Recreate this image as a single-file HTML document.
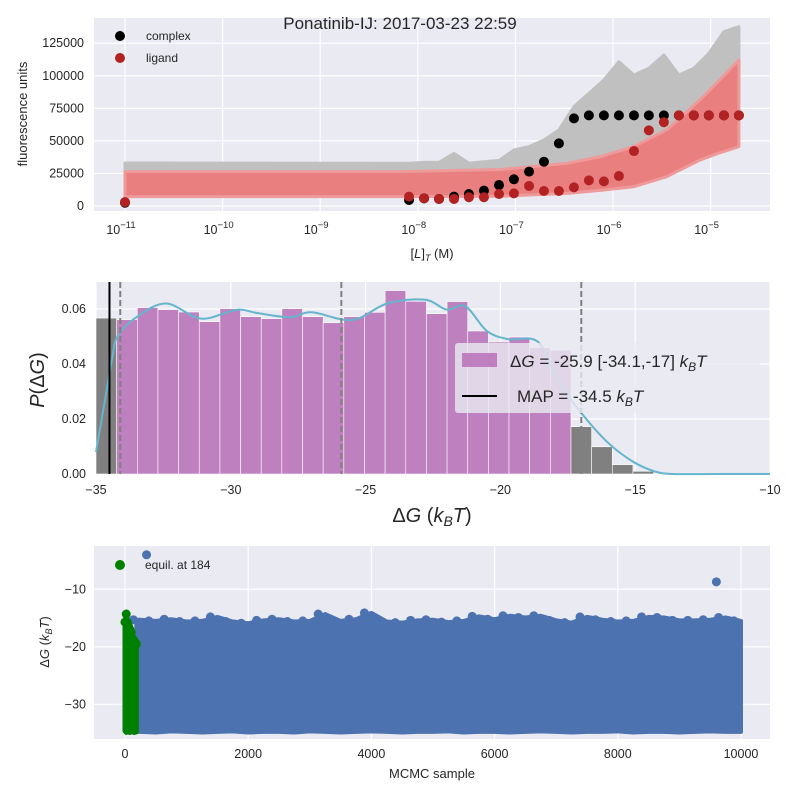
<!DOCTYPE html>
<html><head><meta charset="utf-8"><style>
body{margin:0;background:#fff;}
svg{display:block;font-family:"Liberation Sans","DejaVu Sans",sans-serif;}
</style></head><body>
<svg id="fig" width="800" height="800" viewBox="0 0 800 800">
<g id="p1"></g>
<g id="p2"></g>
<g id="p3"></g>
<text x="400" y="29" text-anchor="middle" font-size="17" fill="#262626">Ponatinib-IJ: 2017-03-23 22:59</text>
</svg>
<script>
// ---------- Panel 1 data ----------
const conc = [1e-11, 8.13e-9, 1.16e-8, 1.65e-8, 2.35e-8, 3.34e-8, 4.76e-8, 6.79e-8, 9.66e-8, 1.38e-7, 1.96e-7, 2.79e-7, 3.98e-7, 5.66e-7, 8.07e-7, 1.15e-6, 1.64e-6, 2.33e-6, 3.32e-6, 4.73e-6, 6.73e-6, 9.59e-6, 1.37e-5, 1.95e-5];
const complexVals = [2500, 4600, 5900, 5400, 7200, 9200, 11800, 16100, 20500, 26400, 34000, 48100, 67300, 69600, 69600, 69600, 69600, 69600, 69600, 69600, 69600, 69600, 69600, 69600];
const ligandVals = [3000, 7200, 5900, 5400, 5400, 6700, 6700, 9200, 9700, 15400, 11500, 11500, 14300, 19700, 18900, 23000, 42200, 58100, 64300, 69600, 69600, 69600, 69600, 69600];
const grayHi = [33000, 32800, 33500, 33500, 40400, 32800, 34000, 35000, 43000, 45600, 50700, 58400, 76300, 86500, 96800, 110800, 100600, 105700, 116000, 100600, 105700, 117200, 133900, 137700];
const grayLo = [17000, 17000, 17000, 17000, 17000, 17000, 17000, 17000, 17000, 18000, 20000, 23000, 26000, 30000, 33000, 37000, 42000, 47000, 52000, 58000, 64000, 70000, 76000, 80000];
const redLogX = [-11, -8.17, -7.15, -6.47, -6.13, -5.79, -5.45, -5.11, -4.94, -4.71];
const redHi = [26400, 26400, 28000, 32800, 37900, 45600, 58400, 81400, 94200, 112100];
const redLo = [7200, 7200, 7500, 9700, 12000, 14800, 22500, 35300, 40000, 45600];
const p1XTicks = [-11, -10, -9, -8, -7, -6, -5];
const p1YTicks = [0, 25000, 50000, 75000, 100000, 125000];
// ---------- Panel 2 data ----------
const binStart = -35, binWidth = 0.766;
const histVals = [0.0567, 0.0561, 0.0605, 0.0598, 0.0589, 0.0554, 0.0601, 0.0572, 0.0565, 0.0601, 0.0572, 0.055, 0.0572, 0.0588, 0.0667, 0.0628, 0.0583, 0.0627, 0.052, 0.048, 0.0498, 0.046, 0.045, 0.0172, 0.0099, 0.0034, 0.001];
const kdeX = [-35, -34.7, -34.4, -34.2, -33.5, -32.4, -31.1, -29.8, -29, -27.8, -27, -25.5, -24.2, -22.8, -22, -21.3, -20.5, -19.7, -18.6, -17.8, -16.9, -16, -15.1, -14.3, -13.6, -12, -10];
const kdeY = [0.008, 0.025, 0.042, 0.05, 0.057, 0.062, 0.0565, 0.0597, 0.0585, 0.057, 0.0588, 0.056, 0.062, 0.0634, 0.0598, 0.061, 0.052, 0.049, 0.048, 0.033, 0.021, 0.0113, 0.0046, 0.001, 0, 0, 0];
const ciLow = -34.1, ciMid = -25.9, ciHigh = -17.0, mapVal = -34.5;
const p2XTicks = [-35, -30, -25, -20, -15, -10];
const p2YTicks = [0, 0.02, 0.04, 0.06];
// ---------- Panel 3 data ----------
const equilIndex = 184;
const envSamples = [250, 500, 750, 1000, 1250, 1500, 1750, 2000, 2250, 2500, 2750, 3000, 3250, 3500, 3750, 4000, 4250, 4500, 4750, 5000, 5250, 5500, 5750, 6000, 6250, 6500, 6750, 7000, 7250, 7500, 7750, 8000, 8250, 8500, 8750, 9000, 9250, 9500, 9750, 10000];
const envUpper = [-15.3, -15.5, -15.2, -15.6, -15.5, -14.8, -15.6, -15.9, -15.4, -15.2, -15.6, -15.5, -14.3, -15.5, -15.2, -14.1, -15.6, -15.8, -15.4, -15.3, -15.7, -15.5, -14.7, -15.2, -14.6, -14.9, -14.6, -15.4, -15.8, -14.8, -15.3, -15.6, -15.5, -14.8, -14.9, -15.4, -15.4, -15.3, -14.9, -15.5];
const envLower = [-34.8, -34.9, -34.7, -34.8, -34.9, -34.8, -34.7, -34.9, -34.8, -34.8, -34.9, -34.7, -34.8, -34.9, -34.8, -34.7, -34.8, -34.9, -34.8, -34.8, -34.7, -34.9, -34.8, -34.8, -34.9, -34.8, -34.7, -34.8, -34.9, -34.8, -34.8, -34.7, -34.9, -34.8, -34.8, -34.9, -34.8, -34.7, -34.8, -34.8];
const greenSamples = [0, 20, 40, 60, 80, 100, 120, 150, 184];
const greenUpper = [-15.7, -14.3, -15.8, -16.5, -17.0, -17.5, -18.5, -19.0, -19.5];
const greenLower = [-34.6, -34.9, -34.7, -34.8, -34.9, -34.6, -34.8, -34.9, -34.8];
const outlierSamples = [350, 9600];
const outlierVals = [-4.0, -8.7];
const p3XTicks = [0, 2000, 4000, 6000, 8000, 10000];
const p3YTicks = [-10, -20, -30];

const NS = "http://www.w3.org/2000/svg";
function mk(parent, tag, attrs, text) {
  const e = document.createElementNS(NS, tag);
  for (const k in attrs) e.setAttribute(k, attrs[k]);
  if (text !== undefined) e.textContent = text;
  parent.appendChild(e);
  return e;
}
const BG = "#EAEAF2", TXT = "#262626";
function smoothPath(pts) {
  let d = "M" + pts[0][0] + "," + pts[0][1];
  for (let i = 0; i < pts.length - 1; i++) {
    const p0 = pts[Math.max(0, i - 1)], p1 = pts[i], p2 = pts[i + 1], p3 = pts[Math.min(pts.length - 1, i + 2)];
    const c1x = p1[0] + (p2[0] - p0[0]) / 6, c1y = p1[1] + (p2[1] - p0[1]) / 6;
    const c2x = p2[0] - (p3[0] - p1[0]) / 6, c2y = p2[1] - (p3[1] - p1[1]) / 6;
    d += " C" + c1x + "," + c1y + " " + c2x + "," + c2y + " " + p2[0] + "," + p2[1];
  }
  return d;
}

// ================= Panel 1 =================
(function () {
  const g = document.getElementById("p1");
  const L = 94, R = 770, T = 18, B = 211;
  const sx = c => 125 + (Math.log10(c) + 11) * 97.6;
  const sxl = lg => 125 + (lg + 11) * 97.6;
  const sy = v => 206 - v / 768;
  const bg = mk(g, "rect", { x: L, y: T, width: R - L, height: B - T, fill: BG });
  
  
  p1XTicks.forEach(t => {
    const x = sxl(t);
    mk(g, "line", { x1: x, x2: x, y1: T, y2: B, stroke: "#fff", "stroke-width": 1.2 });
    const tx = mk(g, "text", { x: x - 4, y: 234, "text-anchor": "middle", "font-size": 12.5, fill: TXT });
    
    
    const a = document.createElementNS(NS, "tspan"); a.textContent = "10"; tx.appendChild(a);
    const b = document.createElementNS(NS, "tspan"); b.setAttribute("dy", -6); b.setAttribute("font-size", 9.5); b.textContent = "\u2212" + Math.abs(t); tx.appendChild(b);
  });
  p1YTicks.forEach(t => {
    const y = sy(t);
    mk(g, "line", { x1: L, x2: R, y1: y, y2: y, stroke: "#fff", "stroke-width": 1.2 });
    const tx = mk(g, "text", { x: 84, y: y + 4, "text-anchor": "end", "font-size": 12.5, fill: TXT }, String(t));
    
    
  });
  let d = "";
  conc.forEach((c, i) => { d += (i ? "L" : "M") + sx(c) + "," + sy(grayHi[i]); });
  for (let i = conc.length - 1; i >= 0; i--) d += "L" + sx(conc[i]) + "," + sy(grayLo[i]);
  const gb = mk(g, "path", { d: d + "Z", fill: "#c0c0c0", stroke: "#c0c0c0", "stroke-width": 3, "stroke-linejoin": "round" });
  
  
  d = "";
  redLogX.forEach((lx, i) => { d += (i ? "L" : "M") + sxl(lx) + "," + sy(redHi[i]); });
  for (let i = redLogX.length - 1; i >= 0; i--) d += "L" + sxl(redLogX[i]) + "," + sy(redLo[i]);
  const rb = mk(g, "path", { d: d + "Z", fill: "#E97F7F", stroke: "#EE9A9A", "stroke-width": 3, "stroke-linejoin": "round" });
  
  
  conc.forEach((c, i) => {
    const p = mk(g, "circle", { cx: sx(c), cy: sy(complexVals[i]), r: 5, fill: "#000" });
    
    
  });
  conc.forEach((c, i) => {
    const p = mk(g, "circle", { cx: sx(c), cy: sy(ligandVals[i]), r: 5, fill: "#B22222" });
    
    
  });
  const lc = mk(g, "circle", { cx: 120, cy: 36, r: 5, fill: "#000" });
   
  const lt = mk(g, "text", { x: 146, y: 40, "font-size": 12, fill: TXT }, "complex");
   
  const lc2 = mk(g, "circle", { cx: 120, cy: 58, r: 5, fill: "#B22222" });
   
  const lt2 = mk(g, "text", { x: 146, y: 62, "font-size": 12, fill: TXT }, "ligand");
   
  const yl = mk(g, "text", { x: 0, y: 0, transform: "translate(27,114) rotate(-90)", "text-anchor": "middle", "font-size": 13, fill: TXT }, "fluorescence units");
   
  const xl = mk(g, "text", { x: 432, y: 258, "text-anchor": "middle", "font-size": 13, fill: TXT });
   
  xl.innerHTML = '[<tspan font-style="italic">L</tspan>]<tspan font-size="9" dy="3" font-style="italic">T</tspan><tspan dy="-3"> (M)</tspan>';
})();

// ================= Panel 2 =================
(function () {
  const g = document.getElementById("p2");
  const L = 96, R = 770, T = 282, B = 474;
  const sx = v => L + (v + 35) * (R - L) / 25;
  const sy = v => B - v * 2750;
  const bg = mk(g, "rect", { x: L, y: T, width: R - L, height: B - T, fill: BG });
   
  p2XTicks.forEach(t => {
    const x = sx(t);
    mk(g, "line", { x1: x, x2: x, y1: T, y2: B, stroke: "#fff", "stroke-width": 1.2 });
    const tx = mk(g, "text", { x: x, y: 494, "text-anchor": "middle", "font-size": 12.5, fill: TXT }, "\u2212" + Math.abs(t));
     
  });
  p2YTicks.forEach(t => {
    const y = sy(t);
    mk(g, "line", { x1: L, x2: R, y1: y, y2: y, stroke: "#fff", "stroke-width": 1.2 });
    const tx = mk(g, "text", { x: 86, y: y + 4, "text-anchor": "end", "font-size": 12.5, fill: TXT }, t.toFixed(2));
     
  });
  histVals.forEach((v, i) => {
    const x0 = binStart + i * binWidth, x1 = x0 + binWidth;
    const mid = (x0 + x1) / 2;
    const inCI = mid > ciLow && mid < ciHigh;
    const r = mk(g, "rect", { x: sx(x0), y: sy(v), width: sx(x1) - sx(x0), height: B - sy(v), fill: inCI ? "#BF80BF" : "#808080", stroke: "#fff", "stroke-width": 0.6 });
    
    
  });
  const kp = kdeX.map((x, i) => [sx(x), sy(kdeY[i])]);
  const kd = mk(g, "path", { d: smoothPath(kp), fill: "none", stroke: "#64B5CD", "stroke-width": 2 });
   
  [ciLow, ciMid, ciHigh].forEach(v => {
    const l = mk(g, "line", { x1: sx(v), x2: sx(v), y1: T, y2: B, stroke: "#808080", "stroke-width": 2, "stroke-dasharray": "6,3" });
     
  });
  const ml = mk(g, "line", { x1: sx(mapVal), x2: sx(mapVal), y1: T, y2: B, stroke: "#000", "stroke-width": 2 });
   
  const lg = mk(g, "rect", { x: 455, y: 343, width: 305, height: 70, rx: 3, fill: "rgba(234,234,242,0.8)" });
   
  const pp = mk(g, "rect", { x: 462, y: 353, width: 35, height: 14, fill: "#BF80BF" });
   
  const t1 = mk(g, "text", { x: 510, y: 367, "font-size": 17, fill: TXT });
   
  t1.innerHTML = 'Δ<tspan font-style="italic">G</tspan> =  -25.9 [-34.1,-17] <tspan font-style="italic">k</tspan><tspan font-size="12" dy="4" font-style="italic">B</tspan><tspan dy="-4" font-style="italic">T</tspan>';
  const mlg = mk(g, "line", { x1: 462, x2: 497, y1: 396, y2: 396, stroke: "#000", "stroke-width": 2 });
   
  const t2 = mk(g, "text", { x: 517, y: 402, "font-size": 17, fill: TXT });
   
  t2.innerHTML = 'MAP = -34.5 <tspan font-style="italic">k</tspan><tspan font-size="12" dy="4" font-style="italic">B</tspan><tspan dy="-4" font-style="italic">T</tspan>';
  const yl = mk(g, "text", { x: 0, y: 0, transform: "translate(44,380) rotate(-90)", "text-anchor": "middle", "font-size": 20, fill: TXT });
   
  yl.innerHTML = '<tspan font-style="italic">P</tspan>(Δ<tspan font-style="italic">G</tspan>)';
  const xl = mk(g, "text", { x: 432, y: 522, "text-anchor": "middle", "font-size": 20, fill: TXT });
   
  xl.innerHTML = 'Δ<tspan font-style="italic">G</tspan> (<tspan font-style="italic">k</tspan><tspan font-size="14" dy="4" font-style="italic">B</tspan><tspan dy="-4" font-style="italic">T</tspan>)';
})();

// ================= Panel 3 =================
(function () {
  const g = document.getElementById("p3");
  const L = 94, R = 770, T = 546, B = 739;
  const sx = s => 125 + s * 0.0616;
  const sy = v => 589.3 + (-10 - v) * 5.75;
  const bg = mk(g, "rect", { x: L, y: T, width: R - L, height: B - T, fill: BG });
   
  p3XTicks.forEach(t => {
    const x = sx(t);
    mk(g, "line", { x1: x, x2: x, y1: T, y2: B, stroke: "#fff", "stroke-width": 1.2 });
    const tx = mk(g, "text", { x: x, y: 758, "text-anchor": "middle", "font-size": 12.5, fill: TXT }, String(t));
     
  });
  p3YTicks.forEach(t => {
    const y = sy(t);
    mk(g, "line", { x1: L, x2: R, y1: y, y2: y, stroke: "#fff", "stroke-width": 1.2 });
    const tx = mk(g, "text", { x: 86, y: y + 4, "text-anchor": "end", "font-size": 12.5, fill: TXT }, "\u2212" + Math.abs(t));
     
  });
  const BLUE = "#4C72B0", GREEN = "#008000";
  let d = "M" + sx(equilIndex) + "," + sy(envUpper[0]);
  envSamples.forEach((s, i) => { d += "L" + sx(s) + "," + sy(envUpper[i]); });
  for (let i = envSamples.length - 1; i >= 0; i--) d += "L" + sx(envSamples[i]) + "," + sy(envLower[i]);
  d += "L" + sx(equilIndex) + "," + sy(envLower[0]) + "Z";
  const band = mk(g, "path", { d: d, fill: BLUE, stroke: BLUE, "stroke-width": 4, "stroke-linejoin": "round" });
   
  envSamples.forEach((s, i) => {
    const c = mk(g, "circle", { cx: sx(s) - 7, cy: sy(envUpper[i]), r: 4.5, fill: BLUE });
     
  });
  d = "";
  greenSamples.forEach((s, i) => { d += (i ? "L" : "M") + sx(s) + "," + sy(greenUpper[i]); });
  for (let i = greenSamples.length - 1; i >= 0; i--) d += "L" + sx(greenSamples[i]) + "," + sy(greenLower[i]);
  const gband = mk(g, "path", { d: d + "Z", fill: GREEN, stroke: GREEN, "stroke-width": 5, "stroke-linejoin": "round" });
   
  greenSamples.forEach((s, i) => {
    const c = mk(g, "circle", { cx: sx(s), cy: sy(greenUpper[i]), r: 4.5, fill: GREEN });
     
  });
  outlierSamples.forEach((s, i) => {
    const c = mk(g, "circle", { cx: sx(s), cy: sy(outlierVals[i]), r: 4.5, fill: BLUE });
     
  });
  const lc = mk(g, "circle", { cx: 120, cy: 565, r: 5, fill: GREEN });
   
  const lt = mk(g, "text", { x: 145, y: 569, "font-size": 12, fill: TXT }, "equil. at 184");
   
  const yl = mk(g, "text", { x: 0, y: 0, transform: "translate(49,642) rotate(-90)", "text-anchor": "middle", "font-size": 13, fill: TXT });
   
  yl.innerHTML = 'Δ<tspan font-style="italic">G</tspan> (<tspan font-style="italic">k</tspan><tspan font-size="9" dy="3" font-style="italic">B</tspan><tspan dy="-3" font-style="italic">T</tspan>)';
  const xl = mk(g, "text", { x: 432, y: 778, "text-anchor": "middle", "font-size": 13, fill: TXT }, "MCMC sample");
   
})();
</script>
</body></html>
